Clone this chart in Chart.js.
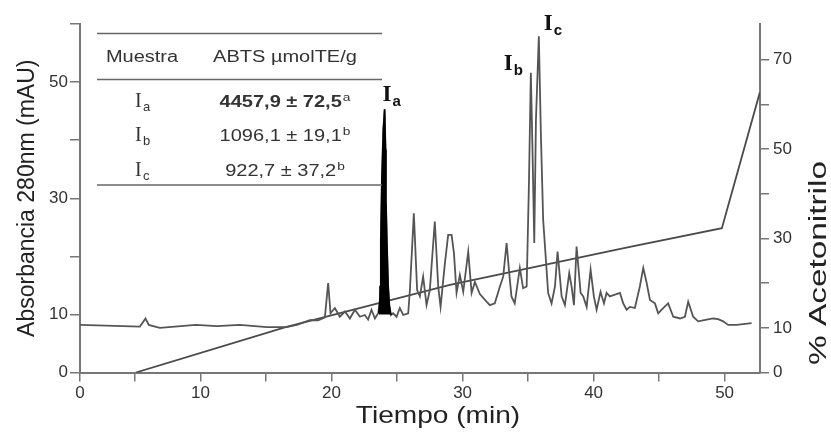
<!DOCTYPE html>
<html>
<head>
<meta charset="utf-8">
<script src="https://cdn.jsdelivr.net/npm/chart.js@4.4.1/dist/chart.umd.min.js"></script>
<style>
body { margin: 0; background: #fff; }
#wrap { width: 831px; height: 433px; }
</style>
</head>
<body>
<div id="wrap"><canvas id="cromatograma"></canvas></div>
<script>
var tiempo = [0.8, 5.37, 5.80, 6.05, 6.89, 9.64, 11.24, 13.0, 15.06, 16.56, 17.35, 18.34, 18.98, 19.49, 19.74, 19.92,
    20.25, 20.63, 21.02, 21.40, 21.78, 22.16, 22.54, 22.79, 23.05, 23.31, 23.56,
    23.61, 23.69, 23.71, 23.76, 23.84, 23.95, 24.05, 24.12, 24.15, 24.22, 24.32, 24.41, 24.53,
    24.70, 24.96, 25.21, 25.47, 25.85, 25.98, 26.28, 26.53, 26.74, 26.99, 27.25, 27.50, 27.88, 28.14, 28.32,
    28.65, 28.90, 29.16, 29.34, 29.54, 29.79, 30.05, 30.43, 30.69, 30.94, 31.32, 31.83, 32.08, 32.46, 32.85,
    33.10, 33.36, 33.56, 33.73, 33.98, 34.37, 34.62, 34.89, 35.06, 35.21, 35.34, 35.47, 35.60, 35.82, 35.98,
    36.15, 36.36, 36.53, 36.79, 37.05, 37.25, 37.56, 37.81, 38.14, 38.32, 38.50, 38.70, 39.01, 39.21, 39.47,
    39.77, 40.02, 40.23, 40.53, 40.79, 40.99, 41.24, 41.63, 42.01, 42.26, 42.52, 42.77, 43.15, 43.53, 43.79,
    44.05, 44.30, 44.68, 44.93, 45.31, 45.69, 46.08, 46.59, 46.97, 47.22, 47.60, 47.98, 48.63, 49.13, 49.51,
    49.89, 50.27, 50.92, 52.06];
var absorbancia = [8.2, 7.9, 9.3, 8.2, 7.7, 8.2, 8.0, 8.2, 7.8, 7.8, 8.2, 9.0, 9.0, 9.5, 15.4, 10.2,
    11.1, 9.6, 10.5, 9.3, 10.8, 9.6, 9.9, 9.1, 10.8, 9.3, 10.2,
    10.2, 12.5, 14.8, 22.8, 33.2, 41.8, 45.3, 38.4, 29.7, 22.8, 14.8, 11.6, 9.9,
    10.2, 9.6, 11.1, 9.9, 10.2, 14.2, 27.4, 14.2, 13.1, 16.5, 11.6, 14.2, 26.0, 14.8, 11.3,
    18.8, 23.7, 23.7, 20.6, 13.7, 16.8, 13.9, 20.8, 13.7, 15.6, 13.5, 12.2, 11.6, 11.9, 14.8,
    16.5, 22.3, 17.1, 13.1, 11.9, 18.0, 14.5, 14.8, 32.0, 51.6, 37.8, 22.3, 43.5, 57.9, 40.7,
    26.3, 19.4, 13.7, 11.9, 14.8, 20.8, 13.1, 11.6, 17.1, 14.8, 11.6, 21.7, 13.7, 13.1, 11.3,
    17.7, 13.1, 10.8, 13.9, 11.9, 13.7, 13.1, 13.4, 13.7, 11.9, 10.8, 11.3, 11.1, 14.8, 18.0,
    15.4, 12.5, 11.9, 10.2, 11.1, 11.9, 9.6, 9.3, 9.6, 12.2, 9.6, 8.8, 9.1, 9.3, 9.2,
    8.8, 8.2, 8.2, 8.5];

// gradiente de acetonitrilo (%)
var tiempoGrad = [5.06, 16.56, 29.03, 42.77, 49.79, 52.69];
var acetonitrilo = [0, 10.2, 19.6, 28.1, 32.3, 62.7];

// pico Ia (relleno negro)
var iaInicio = 23.61, iaFin = 24.53;

// ejes
var xMin = 0.8, xMax = 52.7;
var xTicks = [0, 5, 10, 15, 20, 25, 30, 35, 40, 45, 50];
var xTickLabels = ['0', '', '10', '', '20', '', '30', '', '40', '', '50'];
var yTicks = [0, 10, 20, 30, 40, 50, 60];
var yTickLabels = ['0', '10', '', '30', '', '50', ''];
var y2Ticks = [0, 10, 20, 30, 40, 50, 60, 70];
var y2TickLabels = ['0', '10', '', '30', '', '50', '', '70'];

// tabla
var muestras = ['a', 'b', 'c'];
var abts = ['4457,9 ± 72,5', '1096,1 ± 19,1', '922,7 ± 37,2'];
var letras = ['a', 'b', 'b'];

// etiquetas de picos: [subindice, tiempo, absorbancia]
var picos = [['a', 24.05, 45.3], ['b', 35.21, 51.6], ['c', 35.82, 57.9]];

var trazo = tiempo.map(function(t, i) { return {x: t, y: absorbancia[i]}; });
var rellenoIa = trazo.filter(function(p) { return p.x >= iaInicio && p.x <= iaFin; });
var gradiente = tiempoGrad.map(function(t, i) { return {x: t, y: acetonitrilo[i]}; });

Chart.defaults.font.family = "'Liberation Sans', Arial, sans-serif";

// texto estirado a lo ancho (y girado si hace falta)
function textoAncho(ctx, txt, x, y, sx, rot)
{
    ctx.save();
    ctx.translate(x, y);
    if (rot) ctx.rotate(rot);
    ctx.scale(sx, 1);
    ctx.fillText(txt, 0, 0);
    ctx.restore();
}

var tablaPlugin = {
    id: 'tabla',
    afterDraw: function(chart) {
        var ctx = chart.ctx;
        var sx = 1.25;
        ctx.save();
        ctx.strokeStyle = '#666';
        ctx.lineWidth = 1.5;
        [33.5, 79.5, 185].forEach(function(y) {
            ctx.beginPath();
            ctx.moveTo(97, y);
            ctx.lineTo(382, y);
            ctx.stroke();
        });

        ctx.fillStyle = '#333';
        ctx.textAlign = 'left';
        ctx.textBaseline = 'alphabetic';
        ctx.font = "16px 'Liberation Sans'";
        var w = ctx.measureText('Muestra').width * sx;
        textoAncho(ctx, 'Muestra', 142 - w / 2, 61.5, sx);
        w = ctx.measureText('ABTS µmolTE/g').width * sx;
        textoAncho(ctx, 'ABTS µmolTE/g', 285 - w / 2, 61.5, sx);

        var baseY = [107, 141, 176];
        for (var i = 0; i < muestras.length; i++) {
            ctx.font = "20px 'Liberation Serif'";
            ctx.fillText('I', 135, baseY[i]);
            ctx.font = "13px 'Liberation Sans'";
            ctx.fillText(muestras[i], 143, baseY[i] + 4);

            ctx.font = (i == 0 ? 'bold ' : '') + "16px 'Liberation Sans'";
            var wm = ctx.measureText(abts[i]).width * sx;
            ctx.font = "11px 'Liberation Sans'";
            var ws = ctx.measureText(letras[i]).width * sx;
            var x0 = 285 - (wm + ws + 1) / 2;
            ctx.font = (i == 0 ? 'bold ' : '') + "16px 'Liberation Sans'";
            textoAncho(ctx, abts[i], x0, baseY[i], sx);
            ctx.font = "11px 'Liberation Sans'";
            textoAncho(ctx, letras[i], x0 + wm + 1, baseY[i] - 6, sx);
        }

        // etiquetas de los picos
        var xs = chart.scales.x, ys = chart.scales.y;
        var desp = [[-2, -8], [-27, -3], [5, -6]];
        ctx.fillStyle = '#111';
        picos.forEach(function(p, k) {
            var px = xs.getPixelForValue(p[1]) + desp[k][0];
            var py = ys.getPixelForValue(p[2]) + desp[k][1];
            ctx.font = "bold 23px 'Liberation Serif'";
            ctx.fillText('I', px, py);
            ctx.font = "bold 15px 'Liberation Sans'";
            ctx.fillText(p[0], px + 10, py + 5);
        });

        // titulos de los ejes x y derecho
        ctx.fillStyle = '#222';
        ctx.font = "24px 'Liberation Sans'";
        w = ctx.measureText('Tiempo (min)').width * 1.17;
        textoAncho(ctx, 'Tiempo (min)', 438 - w / 2, 423, 1.17);
        ctx.font = "23px 'Liberation Sans'";
        w = ctx.measureText('% Acetonitrilo').width * 1.45;
        textoAncho(ctx, '% Acetonitrilo', 826, 263 + w / 2, 1.45, -Math.PI / 2);
        ctx.restore();
    }
};

var ejeColor = '#777';

new Chart(document.getElementById('cromatograma'), {
    type: 'line',
    data: {
        datasets: [
            {
                data: trazo,
                borderColor: '#555',
                borderWidth: 1.8,
                pointRadius: 0,
                yAxisID: 'y',
                fill: false,
                order: 1
            },
            {
                data: rellenoIa,
                borderColor: '#000',
                borderWidth: 1.5,
                backgroundColor: '#000',
                pointRadius: 0,
                yAxisID: 'y',
                fill: {value: 10},
                order: 0
            },
            {
                data: gradiente,
                borderColor: '#4a4a4a',
                borderWidth: 1.8,
                pointRadius: 0,
                yAxisID: 'y2',
                fill: false,
                order: 2
            }
        ]
    },
    options: {
        responsive: true,
        maintainAspectRatio: false,
        animation: false,
        layout: { padding: { top: 24, left: 0, right: 0, bottom: 0 } },
        plugins: {
            legend: { display: false },
            tooltip: { enabled: false }
        },
        scales: {
            x: {
                type: 'linear',
                min: xMin,
                max: xMax,
                afterBuildTicks: function(a) {
                    a.ticks = xTicks.map(function(v) { return {value: Math.max(v, xMin)}; });
                },
                afterFit: function(a) { a.height = 60.5; },
                grid: { drawOnChartArea: false, drawTicks: true, tickLength: 9, color: ejeColor, lineWidth: 1.5 },
                border: { display: true, color: ejeColor, width: 2 },
                ticks: {
                    autoSkip: false, maxRotation: 0, padding: 2, color: '#333', font: { size: 17 },
                    callback: function(v, i) { return xTickLabels[i]; }
                },
                title: { display: false }
            },
            y: {
                type: 'linear',
                position: 'left',
                min: 0,
                max: 60,
                afterBuildTicks: function(a) {
                    a.ticks = yTicks.map(function(v) { return {value: v}; });
                },
                afterFit: function(a) { a.width = 80; },
                grid: { drawOnChartArea: false, drawTicks: true, tickLength: 10, color: ejeColor, lineWidth: 1.5 },
                border: { display: true, color: ejeColor, width: 2 },
                ticks: {
                    autoSkip: false, padding: 2, color: '#333', font: { size: 17 },
                    callback: function(v, i) { return yTickLabels[i]; }
                },
                title: { display: true, text: 'Absorbancia 280nm (mAU)', color: '#222', font: { size: 23 }, padding: { top: 14, bottom: 0 } }
            },
            y2: {
                type: 'linear',
                position: 'right',
                min: 0,
                max: 78,
                afterBuildTicks: function(a) {
                    a.ticks = y2Ticks.map(function(v) { return {value: v}; });
                },
                afterFit: function(a) { a.width = 71; },
                grid: { drawOnChartArea: false, drawTicks: true, tickLength: 9, color: ejeColor, lineWidth: 1.5 },
                border: { display: true, color: ejeColor, width: 2 },
                ticks: {
                    autoSkip: false, padding: 4, color: '#333', font: { size: 17 },
                    callback: function(v, i) { return y2TickLabels[i]; }
                },
                title: { display: false }
            }
        }
    },
    plugins: [tablaPlugin]
});
</script>
</body>
</html>
